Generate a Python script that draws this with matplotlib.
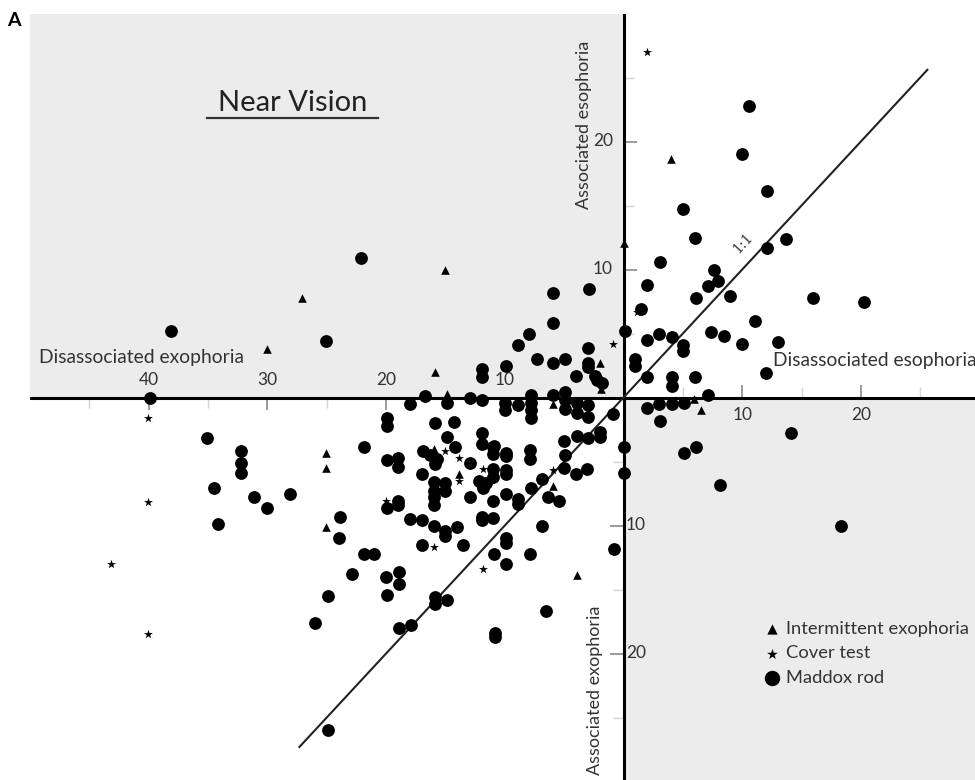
import matplotlib
matplotlib.use("Agg")
import matplotlib.pyplot as plt
from matplotlib.patches import Rectangle

plt.rcParams['font.family'] = ['Lato', 'DejaVu Sans']

# ---- data (x: + esophoria / - exophoria, y: + esophoria / - exophoria) ----
maddox_x = [-38.1, -39.9, -25.1, -22.1, -8.0, -8.9, -3.0, -11.9, -11.9, -9.9,
            -7.3, -5.9, -4.9, -3.0, -2.95, -4.0, -2.4, -2.2, -1.8, -5.9,
            -2.9, -5.9, -12.9, -11.9, -10.0, -10.0, -8.9, -7.8, -7.8, -7.8,
            -7.8, -5.9, -4.9, -4.9, -4.9, -3.9, -3.9, -3.0, -3.0, -0.9,
            -11.9, -11.9, -10.9, -5.0, -3.9, -3.0, -2.0, -2.0, 0.0, -18.0,
            -16.7, -14.9, -19.9, -19.9, -15.9, -14.3, -14.9, -14.2, -21.9, -16.9,
            -19.9, -19.0, -19.0, -16.3, -15.7, -15.9, -12.9, -17.0, -16.0, -16.0,
            -16.0, -16.0, -15.0, -15.0, -12.9, -12.2, -19.9, -19.0, -19.0, -23.9,
            -24.0, -18.0, -17.0, -16.0, -15.0, -15.0, -14.0, -17.0, -13.5, -21.9,
            -21.0, -11.0, -11.0, -9.9, -9.9, -7.9, -7.9, -4.9, -4.0, -3.1,
            -5.0, -11.0, -11.0, -9.9, -9.9, -11.6, -11.8, -9.9, -11.0, -8.9,
            -8.9, -7.8, -6.9, -6.4, -5.4, -11.9, -11.9, -11.0, -6.9, -9.9,
            -9.9, -10.9, -7.9, -0.8, 0.0, -22.9, -24.9, -20.0, -18.9, -18.9,
            -19.9, -18.9, -17.9, -15.9, -15.9, -14.9, -9.9, -6.5, -10.8, -10.8,
            -24.9, -34.2, -26.0, -35.1, -32.2, -32.2, -32.2, -34.5, -31.1, -28.1,
            -30.0,
            10.6, 10.0, 12.1, 5.0, 6.0, 13.7, 12.1, 3.1, 2.0, 7.6,
            7.1, 8.0, 6.1, 9.0, 16.0, 20.3, 11.1, 3.0, 4.1, 2.0,
            7.4, 8.5, 10.0, 13.0, 5.0, 5.0, 12.0, 2.0, 4.1, 4.1,
            6.0, 7.1, 0.1, 1.5, 1.0, 1.0,
            3.0, 4.1, 5.1, 2.0, 3.1, 14.1, 5.1, 6.1, 8.1, 18.3]
maddox_y = [5.2, 0.0, 4.4, 10.9, 5.0, 4.1, 3.9, 2.2, 1.6, 2.5,
            3.0, 2.7, 3.0, 2.7, 2.4, 1.7, 1.7, 1.4, 1.1, 8.2,
            8.5, 5.8, 0.0, -0.2, -0.4, -1.0, -0.6, 0.2, -0.4, -1.0,
            -1.6, 0.2, 0.4, -0.2, -0.9, -0.4, -1.2, -0.6, -1.5, -1.3,
            -2.8, -3.6, -3.8, -3.4, -3.0, -3.2, -2.7, -3.1, -3.9, -0.5,
            0.1, -0.4, -1.6, -2.2, -2.0, -1.9, -3.1, -3.9, -3.9, -4.2,
            -4.9, -4.7, -5.4, -4.5, -4.8, -5.2, -5.1, -6.0, -6.6, -7.3,
            -7.8, -8.4, -6.7, -7.3, -7.8, -6.5, -8.6, -8.1, -8.4, -9.3,
            -11.0, -9.5, -9.6, -10.0, -10.4, -10.8, -10.1, -11.5, -11.5, -12.2,
            -12.2, -3.9, -4.4, -4.3, -4.6, -4.1, -4.8, -4.5, -6.0, -5.6,
            -5.5, -5.6, -6.2, -5.7, -6.0, -6.7, -7.1, -7.5, -8.1, -7.9,
            -8.3, -7.1, -6.4, -7.8, -8.1, -9.3, -9.6, -9.4, -10.0, -11.0,
            -11.4, -12.2, -12.2, -11.8, -5.9, -13.8, -15.5, -14.0, -13.6, -14.6,
            -15.4, -18.0, -17.8, -15.6, -16.1, -15.8, -13.0, -16.7, -18.4, -18.7,
            -26.0, -9.9, -17.6, -3.2, -4.2, -5.1, -5.9, -7.1, -7.8, -7.5,
            -8.6,
            22.8, 19.0, 16.1, 14.7, 12.5, 12.4, 11.7, 10.6, 8.8, 10.0,
            8.7, 9.1, 7.8, 7.9, 7.8, 7.5, 6.0, 5.0, 4.7, 4.5,
            5.1, 4.8, 4.2, 4.3, 4.1, 3.6, 1.9, 1.6, 1.6, 0.9,
            1.6, 0.2, 5.2, 6.9, 3.0, 2.5,
            -0.5, -0.5, -0.4, -0.8, -1.8, -2.8, -4.3, -3.9, -6.8, -10.0]

cover_x = [2.0, -0.9, 1.1, -40.1, -40.1, -43.2, -40.1, -20.0, -15.0, -13.9,
           -13.9, -16.0, -11.8, -11.8, -5.9]
cover_y = [27.0, 4.2, 6.7, -1.6, -8.2, -13.0, -18.5, -8.1, -4.2, -4.7,
           -6.5, -11.7, -13.4, -5.6, -5.7]

intermittent_x = [-30.0, -27.1, -15.0, -15.9, -14.9, -16.0, -13.9, -25.1, -25.1, -25.1,
                  -5.9, -5.9, -3.9, -2.0, -1.9, 4.0, 0.0, 5.9, 6.5]
intermittent_y = [3.8, 7.8, 10.0, 2.0, 0.3, -4.0, -6.0, -4.3, -5.5, -10.1,
                  -0.5, -6.9, -13.9, 2.7, 0.7, 18.6, 12.1, -0.1, -1.0]

x_major_neg = [-40, -30, -20, -10]
x_major_pos = [10, 20]
y_major_pos = [10, 20]
y_major_neg = [-10, -20]
x_minor = [-45, -35, -25, -15, -5, 5, 15, 25]
y_minor = [-25, -15, -5, 5, 15, 25]
identity_ends = [-27.3, 25.6]

XMIN, XMAX, YMIN, YMAX = -50, 30, -30, 30
W, H = 975, 780

fig = plt.figure(figsize=(W / 100, H / 100), dpi=100)
ax = fig.add_axes([30 / W, -1.5 / H, 949.6 / W, 768 / H])
ax.set_xlim(XMIN, XMAX)
ax.set_ylim(YMIN, YMAX)
ax.axis('off')

gray = '#ececec'
ax.add_patch(Rectangle((XMIN, 0), -XMIN, YMAX, color=gray, zorder=0, lw=0))
ax.add_patch(Rectangle((0, YMIN), XMAX, -YMIN, color=gray, zorder=0, lw=0))

# axes through origin
ax.axhline(0, color='black', lw=2.2, zorder=2)
ax.axvline(0, color='black', lw=2.2, zorder=2)

# tick marks
tx = 1.0   # length of ticks on x axis (y units)
ty = 1.1   # length of ticks on y axis (x units)
ax.vlines(x_major_neg, -tx, 0, color='#8a8a8a', lw=1.2, zorder=1)
ax.vlines(x_major_pos, 0, tx, color='#8a8a8a', lw=1.2, zorder=1)
ax.hlines(y_major_pos, 0, ty, color='#8a8a8a', lw=1.2, zorder=1)
ax.hlines(y_major_neg, -ty, 0, color='#8a8a8a', lw=1.2, zorder=1)
ax.vlines([v for v in x_minor if v < 0], -0.8, 0, color='#d4d4d4', lw=1.0, zorder=1)
ax.vlines([v for v in x_minor if v > 0], 0, 0.8, color='#d4d4d4', lw=1.0, zorder=1)
ax.hlines([v for v in y_minor if v > 0], 0, 0.9, color='#d4d4d4', lw=1.0, zorder=1)
ax.hlines([v for v in y_minor if v < 0], -0.9, 0, color='#d4d4d4', lw=1.0, zorder=1)

tick_kw = dict(fontsize=12.5, color='#333333')
for v in x_major_neg:
    ax.text(v, 1.35, str(abs(v)), ha='center', va='center', **tick_kw)
for v in x_major_pos:
    ax.text(v, -1.35, str(v), ha='center', va='center', **tick_kw)
for v in y_major_pos:
    ax.text(-0.9, v, str(v), ha='right', va='center', **tick_kw)
for v in y_major_neg:
    ax.text(0.2, v, str(abs(v)), ha='left', va='center', **tick_kw)

# 1:1 line
ax.plot(identity_ends, identity_ends, color='#222222', lw=1.5, zorder=2)
ax.text(10.1, 12.1, '1:1', rotation=47, ha='center', va='center',
        fontsize=10, family='DejaVu Serif', color='#333333')

# data
ax.scatter(maddox_x, maddox_y, s=85, marker='o', color='black', lw=0, zorder=3,
           label='Maddox rod')
ax.scatter(cover_x, cover_y, s=45, marker='*', color='black', lw=0, zorder=3,
           label='Cover test')
ax.scatter(intermittent_x, intermittent_y, s=38, marker='^', color='black', lw=0,
           zorder=3, label='Intermittent exophoria')

# axis titles
lab_kw = dict(color='#333333')
ax.text(-49.2, 3.1, 'Disassociated exophoria', ha='left', va='center', fontsize=13.9, **lab_kw)
ax.text(12.6, 2.9, 'Disassociated esophoria', ha='left', va='center', fontsize=13.9, **lab_kw)
ax.text(-3.3, 21.3, 'Associated esophoria', rotation=90, ha='center', va='center',
        fontsize=13, **lab_kw)
ax.text(-2.4, -22.9, 'Associated exophoria', rotation=90, ha='center', va='center',
        fontsize=13, **lab_kw)

# title with underline
ax.text(-27.9, 23.0, 'Near Vision', ha='center', va='center', fontsize=21, color='#222222')
ax.plot([-35.1, -20.7], [21.8, 21.8], color='#333333', lw=1.6)

fig.text(14 / W, 1 - 20 / H, 'A', fontsize=14, fontweight='bold', ha='center', va='center')

handles, labels = ax.get_legend_handles_labels()
order = [2, 1, 0]
ax.legend([handles[i] for i in order], [labels[i] for i in order],
          loc='upper left', bbox_to_anchor=(752 / W, 1 - 612 / H),
          bbox_transform=fig.transFigure, frameon=False, fontsize=13.2,
          handletextpad=0.15, labelspacing=0.45, handlelength=1.2, borderpad=0,
          markerscale=1.2, labelcolor='#333333')

fig.savefig('out.png', dpi=100)
